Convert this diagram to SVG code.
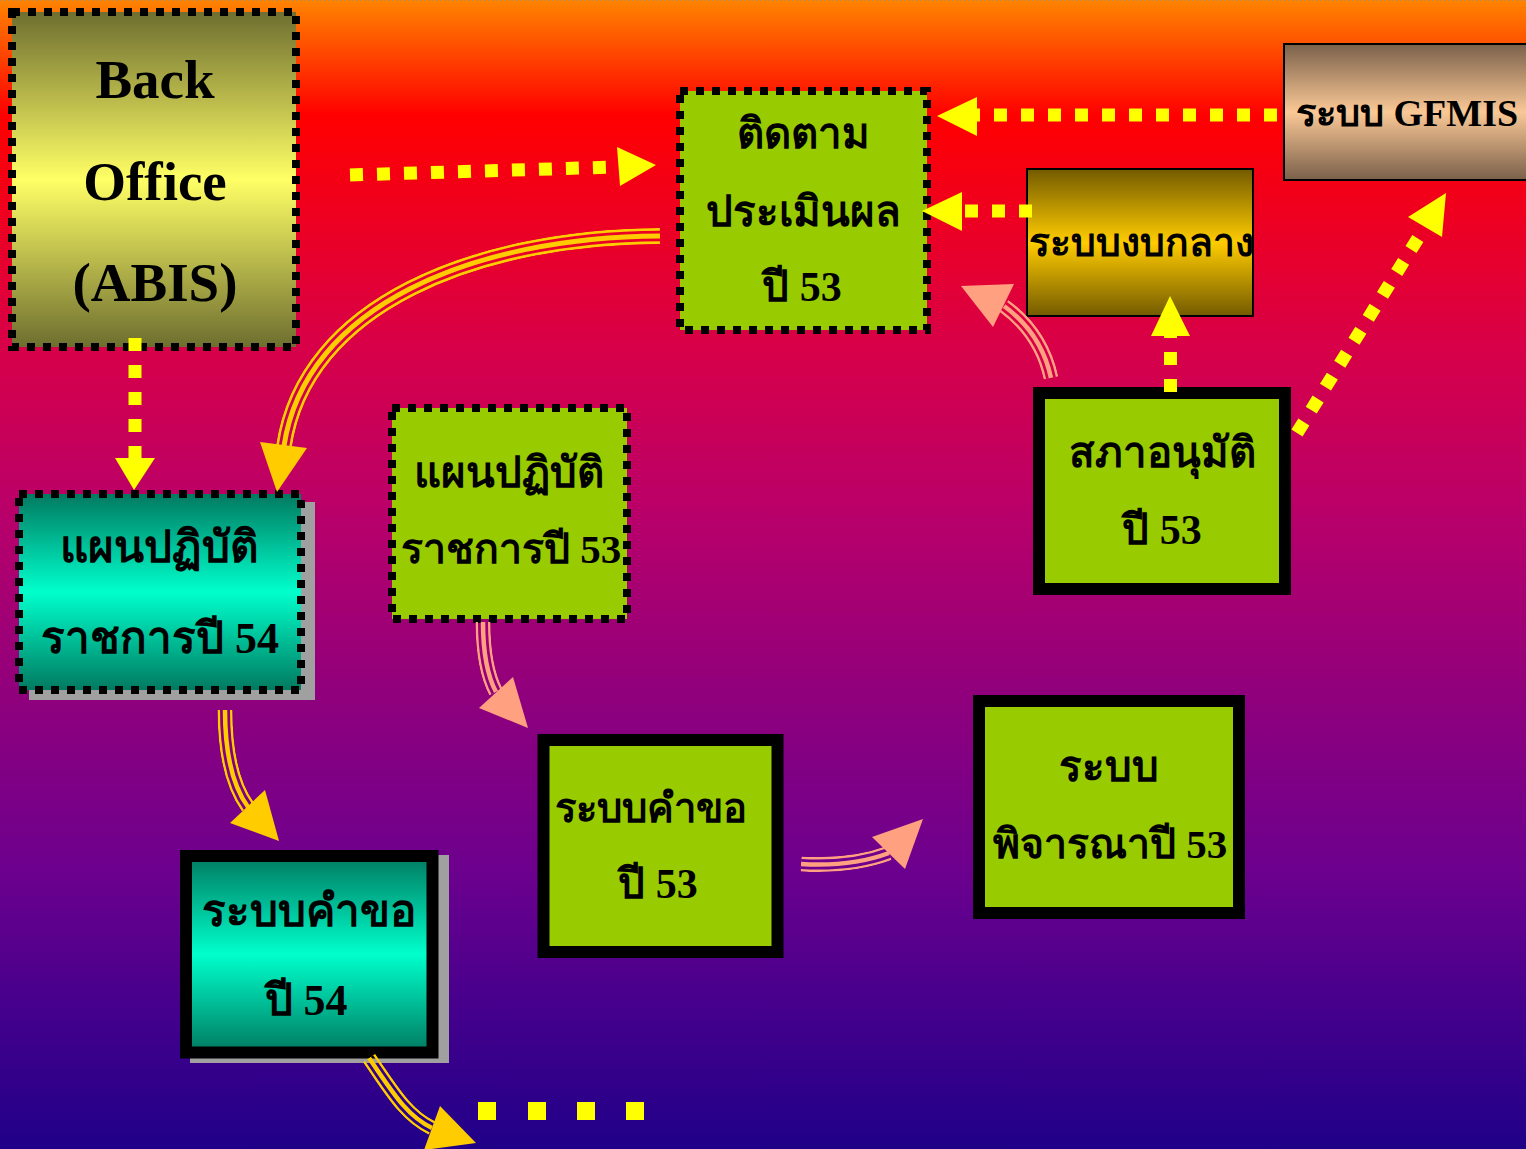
<svg xmlns="http://www.w3.org/2000/svg" xmlns:xlink="http://www.w3.org/1999/xlink" width="1526" height="1149" viewBox="0 0 1526 1149">
<style>
  .t { font-family: "Liberation Serif", "Noto Sans CJK SC", serif; font-weight: bold; fill: #000; text-anchor: middle; }
  .dotb { fill: none; stroke: #000; stroke-width: 8; stroke-dasharray: 8 8; }
  .thick { stroke: #000; stroke-width: 12; }
  .thin { stroke: #000; stroke-width: 2; }
  .ydot { fill: none; stroke: #FFFF00; stroke-width: 13; stroke-dasharray: 13 14; }
  .yhead { fill: #FFFF00; }
  .ghead { fill: #FFCC00; }
  .phead { fill: #FFA080; }
</style>
<defs>
  <linearGradient id="bg" x1="0" y1="0" x2="0" y2="1149" gradientUnits="userSpaceOnUse">
    <stop offset="0" stop-color="#FF8400"/>
    <stop offset="0.1" stop-color="#FF0000"/>
    <stop offset="0.3" stop-color="#D80048"/>
    <stop offset="0.45" stop-color="#B8006A"/>
    <stop offset="0.62" stop-color="#8C007E"/>
    <stop offset="0.76" stop-color="#6C008E"/>
    <stop offset="0.88" stop-color="#44008C"/>
    <stop offset="1" stop-color="#200088"/>
  </linearGradient>
  <linearGradient id="gOlive" x1="0" y1="0" x2="0" y2="1">
    <stop offset="0" stop-color="#6E6E30"/>
    <stop offset="0.5" stop-color="#FFFF66"/>
    <stop offset="1" stop-color="#6E6E30"/>
  </linearGradient>
  <linearGradient id="gTeal" x1="0" y1="0" x2="0" y2="1">
    <stop offset="0" stop-color="#007A60"/>
    <stop offset="0.5" stop-color="#00FFCC"/>
    <stop offset="1" stop-color="#007A60"/>
  </linearGradient>
  <linearGradient id="gBrown" x1="0" y1="0" x2="0" y2="1">
    <stop offset="0" stop-color="#7A604A"/>
    <stop offset="0.5" stop-color="#FAC896"/>
    <stop offset="1" stop-color="#7A604A"/>
  </linearGradient>
  <linearGradient id="gGold" x1="0" y1="0" x2="0" y2="1">
    <stop offset="0" stop-color="#735A00"/>
    <stop offset="0.5" stop-color="#FFCC00"/>
    <stop offset="1" stop-color="#735A00"/>
  </linearGradient>
  <path id="c1" fill="none" d="M660,236 C475,237 305,305 284,446"/>
  <path id="c2" fill="none" d="M225,710 C225,750 232,785 248,807"/>
  <path id="c3" fill="none" d="M369,1058 C390,1088 405,1115 432,1128"/>
  <path id="c4" fill="none" d="M483,622 C483,650 487,675 496,692"/>
  <path id="c5" fill="none" d="M801,864 C835,866 865,862 889,853"/>
  <path id="c6" fill="none" d="M1051,378 C1045,350 1030,325 1004,306"/>
  <mask id="m1" maskUnits="userSpaceOnUse" x="0" y="0" width="1526" height="1149"><use xlink:href="#c1" stroke="#fff" stroke-width="16"/><use xlink:href="#c1" stroke="#000" stroke-width="10.5"/><use xlink:href="#c1" stroke="#fff" stroke-width="5"/></mask>
  <mask id="m2" maskUnits="userSpaceOnUse" x="0" y="0" width="1526" height="1149"><use xlink:href="#c2" stroke="#fff" stroke-width="15"/><use xlink:href="#c2" stroke="#000" stroke-width="10"/><use xlink:href="#c2" stroke="#fff" stroke-width="4.5"/></mask>
  <mask id="m3" maskUnits="userSpaceOnUse" x="0" y="0" width="1526" height="1149"><use xlink:href="#c3" stroke="#fff" stroke-width="15"/><use xlink:href="#c3" stroke="#000" stroke-width="10"/><use xlink:href="#c3" stroke="#fff" stroke-width="4.5"/></mask>
  <mask id="m4" maskUnits="userSpaceOnUse" x="0" y="0" width="1526" height="1149"><use xlink:href="#c4" stroke="#fff" stroke-width="15"/><use xlink:href="#c4" stroke="#000" stroke-width="10"/><use xlink:href="#c4" stroke="#fff" stroke-width="4.5"/></mask>
  <mask id="m5" maskUnits="userSpaceOnUse" x="0" y="0" width="1526" height="1149"><use xlink:href="#c5" stroke="#fff" stroke-width="15"/><use xlink:href="#c5" stroke="#000" stroke-width="10"/><use xlink:href="#c5" stroke="#fff" stroke-width="4.5"/></mask>
  <mask id="m6" maskUnits="userSpaceOnUse" x="0" y="0" width="1526" height="1149"><use xlink:href="#c6" stroke="#fff" stroke-width="15"/><use xlink:href="#c6" stroke="#000" stroke-width="10"/><use xlink:href="#c6" stroke="#fff" stroke-width="4.5"/></mask>
</defs>

<rect x="0" y="0" width="1526" height="1149" fill="url(#bg)"/>
<line x1="0" y1="0.5" x2="1526" y2="0.5" stroke="#C88A40" stroke-width="1" stroke-dasharray="2 2"/>

<g id="node-backoffice">
  <rect x="12" y="12" width="284" height="335" fill="url(#gOlive)"/>
  <rect x="12" y="12" width="284" height="335" class="dotb"/>
  <text class="t" x="155" y="98" font-size="55">Back</text>
  <text class="t" x="155" y="200" font-size="55">Office</text>
  <text class="t" x="155" y="301" font-size="55">(ABIS)</text>
</g>

<g id="node-tidtam">
  <rect x="680" y="91" width="247" height="239" fill="#99CC00"/>
  <rect x="680" y="91" width="247" height="239" class="dotb"/>
  <text class="t" x="803" y="148" font-size="42">ติดตาม</text>
  <text class="t" x="803" y="226" font-size="42">ประเมินผล</text>
  <text class="t" x="802" y="301" font-size="42">ปี 53</text>
</g>

<g id="node-gfmis">
  <rect x="1284" y="44" width="250" height="136" fill="url(#gBrown)" class="thin"/>
  <text class="t" x="1296" y="126" font-size="38" style="text-anchor:start">ระบบ GFMIS</text>
</g>

<g id="node-ngobklang">
  <rect x="1027" y="169" width="226" height="147" fill="url(#gGold)" class="thin"/>
  <text class="t" x="1141" y="256" font-size="39">ระบบงบกลาง</text>
</g>

<g id="node-sapha">
  <rect x="1039" y="393" width="246" height="196" fill="#99CC00" class="thick"/>
  <text class="t" x="1162" y="467" font-size="42">สภาอนุมัติ</text>
  <text class="t" x="1162" y="544" font-size="42">ปี 53</text>
</g>

<g id="node-plan53">
  <rect x="392" y="408" width="235" height="211" fill="#99CC00"/>
  <rect x="392" y="408" width="235" height="211" class="dotb"/>
  <text class="t" x="509" y="487" font-size="42">แผนปฏิบัติ</text>
  <text class="t" x="511" y="563" font-size="41">ราชการปี 53</text>
</g>

<g id="node-plan54">
  <rect x="29" y="502" width="286" height="198" fill="#A0A0A0"/>
  <rect x="19" y="494" width="282" height="196" fill="url(#gTeal)"/>
  <rect x="19" y="494" width="282" height="196" class="dotb"/>
  <text class="t" x="159" y="562" font-size="44">แผนปฏิบัติ</text>
  <text class="t" x="160" y="653" font-size="44">ราชการปี 54</text>
</g>

<g id="node-request53">
  <rect x="543.5" y="740" width="234" height="212" fill="#99CC00" class="thick"/>
  <text class="t" x="651" y="822" font-size="40">ระบบคำขอ</text>
  <text class="t" x="658" y="898" font-size="42">ปี 53</text>
</g>

<g id="node-consider53">
  <rect x="979" y="701" width="260" height="212" fill="#99CC00" class="thick"/>
  <text class="t" x="1109" y="781" font-size="42">ระบบ</text>
  <text class="t" x="1110" y="858" font-size="41">พิจารณาปี 53</text>
</g>

<g id="node-request54">
  <rect x="190" y="855" width="259" height="208" fill="#A0A0A0"/>
  <rect x="186" y="856" width="246.5" height="196.5" fill="url(#gTeal)" class="thick"/>
  <text class="t" x="309" y="926" font-size="44">ระบบคำขอ</text>
  <text class="t" x="306" y="1015" font-size="44">ปี 54</text>
</g>

<g id="connectors">
  <!-- yellow dotted arrows -->
  <line x1="350" y1="175" x2="614" y2="167" class="ydot"/>
  <polygon class="yhead" points="656,165 617,147 620,186"/>

  <line x1="1277" y1="115" x2="976" y2="115" class="ydot"/>
  <polygon class="yhead" points="937,116 977,97 977,136"/>

  <line x1="1032" y1="211" x2="962" y2="211" class="ydot"/>
  <polygon class="yhead" points="922,211 962,192 962,231"/>

  <line x1="135" y1="338" x2="135" y2="458" class="ydot"/>
  <polygon class="yhead" points="134,490 115,458 155,458"/>

  <line x1="1170.5" y1="392" x2="1170.5" y2="336" class="ydot"/>
  <polygon class="yhead" points="1170,296 1151,336 1190,336"/>

  <line x1="1297" y1="433" x2="1425" y2="227" class="ydot"/>
  <polygon class="yhead" points="1446,193 1408,217 1442,237"/>

  <!-- yellow triple curved arrows -->
  <use xlink:href="#c1" stroke="#FFCC00" stroke-width="16" mask="url(#m1)"/>
  <polygon class="ghead" points="277,492 260,442 307,448"/>
  <use xlink:href="#c2" stroke="#FFCC00" stroke-width="15" mask="url(#m2)"/>
  <polygon class="ghead" points="279,841 230,823 265,790"/>
  <use xlink:href="#c3" stroke="#FFCC00" stroke-width="15" mask="url(#m3)"/>
  <polygon class="ghead" points="476,1143 440,1106 424,1150"/>

  <!-- pink triple curved arrows -->
  <use xlink:href="#c4" stroke="#FFA080" stroke-width="15" mask="url(#m4)"/>
  <polygon class="phead" points="528,728 479,708 513,677"/>
  <use xlink:href="#c5" stroke="#FFA080" stroke-width="15" mask="url(#m5)"/>
  <polygon class="phead" points="923,819 872,837 905,869"/>
  <use xlink:href="#c6" stroke="#FFA080" stroke-width="15" mask="url(#m6)"/>
  <polygon class="phead" points="961,286 1014,284 993,327"/>

  <!-- trailing dots -->
  <rect x="478" y="1102" width="18" height="18" fill="#FFFF00"/>
  <rect x="528" y="1102" width="18" height="18" fill="#FFFF00"/>
  <rect x="577" y="1102" width="18" height="18" fill="#FFFF00"/>
  <rect x="626" y="1102" width="18" height="18" fill="#FFFF00"/>
</g>
</svg>
